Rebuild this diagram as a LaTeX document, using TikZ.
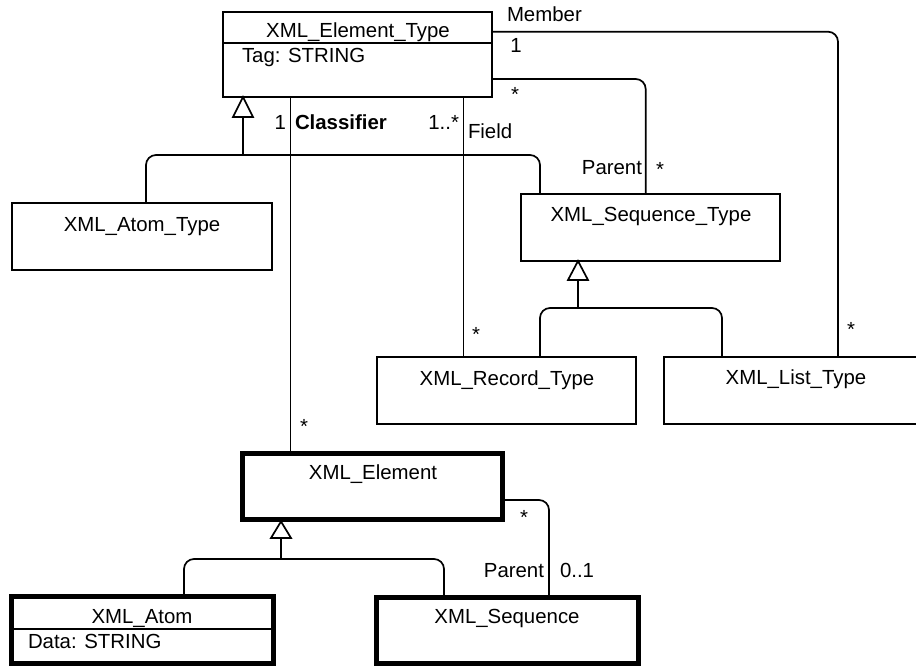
\documentclass[tikz,border=0pt]{standalone}
\usepackage{fontspec}
\setmainfont{Liberation Sans}
\usetikzlibrary{calc}
\begin{document}
\begin{tikzpicture}[x=1pt,y=-1pt,
  font=\fontsize{20.4}{24}\selectfont,
  box/.style={draw, rectangle, line width=1.7pt, inner sep=0pt, outer sep=0pt},
  thickbox/.style={box, line width=5pt},
  conn/.style={line width=1.7pt, rounded corners=10pt},
  gen/.style={draw, line width=1.7pt, fill=white, line join=miter},
  txt/.style={inner sep=0pt, outer sep=0pt, anchor=base},
  txtl/.style={txt, anchor=base west},
  txtr/.style={txt, anchor=base east}]
\useasboundingbox (0,0) rectangle (916,666);
\clip (0,0) rectangle (916,666);

% classes
\node[box, minimum width=269pt, minimum height=85pt] (ET) at (357.5,54.5) {};
\node[box, minimum width=260pt, minimum height=67pt] (AT) at (142,236.5) {};
\node[box, minimum width=259pt, minimum height=67pt] (ST) at (650.5,227.5) {};
\node[box, minimum width=259pt, minimum height=67pt] (RT) at (506.5,390.5) {};
\node[box, minimum width=264pt, minimum height=67pt] (LT) at (796,390.5) {};
\node[thickbox, minimum width=260pt, minimum height=66pt] (E) at (372,486) {};
\node[thickbox, minimum width=262pt, minimum height=67pt] (A) at (142,629.5) {};
\node[thickbox, minimum width=262pt, minimum height=66pt] (S) at (507,630) {};

% compartments
\coordinate (d1) at (0,43);
\coordinate (d2) at (0,629);
\draw[line width=1.7pt] (ET.west |- d1) -- (ET.east |- d1);
\draw[line width=1.7pt] (A.west |- d2) -- (A.east |- d2);

% class texts
\node[txt] (tET) at (358,38) {XML\_Element\_Type};
\node[txtl] (aET) at (242,63) {Tag: STRING};
\node[txt] (tAT) at (142,231) {XML\_Atom\_Type};
\node[txt] (tST) at (651,221) {XML\_Sequence\_Type};
\node[txt] (tRT) at (507,385) {XML\_Record\_Type};
\node[txt] (tLT) at (796,384) {XML\_List\_Type};
\node[txt] (tE) at (373,479) {XML\_Element};
\node[txt] (tA) at (142,623) {XML\_Atom};
\node[txtl] (aA) at (28,648) {Data: STRING};
\node[txt] (tS) at (507,623) {XML\_Sequence};

% associations
\coordinate (c1) at (290.5,0);
\coordinate (f1) at (463.5,0);
\coordinate (p1) at (645.7,79);
\coordinate (m1) at (838,31.7);
\coordinate (p2) at (549,500);
\draw[conn] (ET.south -| c1) -- (E.north -| c1);
\draw[conn] (ET.south -| f1) -- (RT.north -| f1);
\draw[conn] (ET.east |- p1) -| (ST.north -| p1);
\draw[conn] (ET.east |- m1) -| (LT.north -| m1);
\draw[conn] (E.east |- p2) -| (S.north -| p2);

% generalization 1
\coordinate (g1) at (243,155);
\coordinate (h1l) at (146,155);
\coordinate (h1r) at (540,155);
\draw[conn] ($(ET.south -| g1)+(0,20)$) -- (g1);
\draw[conn] (AT.north -| h1l) -- (h1l) -- (h1r) -- (ST.north -| h1r);
\draw[gen] (ET.south -| g1) -- ++(-10,20) -- ++(20,0) -- cycle;

% generalization 2
\coordinate (g2) at (578,308);
\coordinate (h2l) at (540,308);
\coordinate (h2r) at (722,308);
\draw[conn] ($(ST.south -| g2)+(0,19)$) -- (g2);
\draw[conn] (RT.north -| h2l) -- (h2l) -- (h2r) -- (LT.north -| h2r);
\draw[gen] (ST.south -| g2) -- ++(-10,19) -- ++(20,0) -- cycle;

% generalization 3
\coordinate (g3) at (281,559);
\coordinate (h3l) at (184,559);
\coordinate (h3r) at (444,559);
\draw[conn] ($(E.south -| g3)+(0,19)$) -- (g3);
\draw[conn] (A.north -| h3l) -- (h3l) -- (h3r) -- (S.north -| h3r);
\draw[gen] ($(E.south -| g3)+(0,2.5)$) -- ++(-10,16.5) -- ++(20,0) -- cycle;

% association labels
\node[txtr] (l1) at (286,130) {1};
\node[txtl] (lcl) at (295,130) {\bfseries Classifier};
\node[txt] (lc2) at (304,433.5) {*};
\node[txtr] (lf1) at (459,130) {1..*};
\node[txtl] (lf) at (468,139) {Field};
\node[txt] (lf2) at (476,341.5) {*};
\node[txtl] (lm) at (507,22) {Member};
\node[txt] (lm1) at (516,53) {1};
\node[txt] (lm2) at (851,336.5) {*};
\node[txt] (lp1) at (515,101.5) {*};
\node[txtr] (lp) at (642,175) {Parent};
\node[txt] (lp2) at (660,176.5) {*};
\node[txt] (lq1) at (524,524.5) {*};
\node[txtr] (lq) at (544,577) {Parent};
\node[txtl] (lq2) at (560,577) {0..1};
\end{tikzpicture}
\end{document}
